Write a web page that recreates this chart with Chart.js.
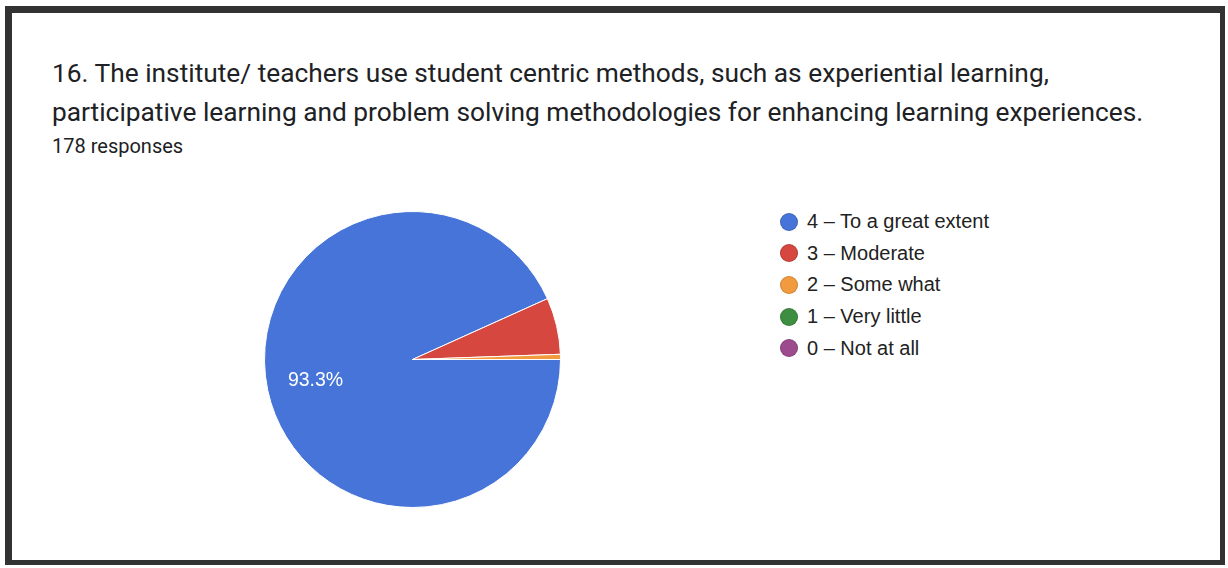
<!DOCTYPE html>
<html>
<head>
<meta charset="utf-8">
<script src="https://cdn.jsdelivr.net/npm/chart.js@4.4.0/dist/chart.umd.min.js"></script>
<style>
    body {
        margin: 0;
        width: 1228px;
        height: 568px;
        background: #fff;
        position: relative;
        overflow: hidden;
    }
    #frame {
        position: absolute;
        left: 5px;
        top: 6px;
        width: 1208px;
        height: 547px;
        border-style: solid;
        border-color: #333;
        border-width: 7px 5px 5px 7px;
    }
    #title {
        position: absolute;
        left: 52px;
        top: 54px;
        font-family: Roboto, sans-serif;
        font-size: 26.3px;
        line-height: 39px;
        color: #202124;
        white-space: nowrap;
    }
    #responses {
        position: absolute;
        left: 52px;
        top: 134px;
        font-family: Roboto, sans-serif;
        font-size: 20px;
        color: #202124;
    }
    #pieBox {
        position: absolute;
        left: 264px;
        top: 211px;
        width: 297px;
        height: 297px;
    }
    #legend {
        position: absolute;
        left: 780px;
        top: 206px;
        font-family: "Liberation Sans", Arial, sans-serif;
        font-size: 20px;
        color: #222;
    }
    .item {
        height: 31.6px;
        display: flex;
        align-items: center;
    }
    .dot {
        width: 18px;
        height: 18px;
        border-radius: 50%;
        margin-right: 9px;
        box-sizing: border-box;
    }
</style>
</head>
<body>
<div id="frame"></div>
<div id="title">16. The institute/ teachers use student centric methods, such as experiential learning,<br>participative learning and problem solving methodologies for enhancing learning experiences.</div>
<div id="responses">178 responses</div>
<div id="pieBox"><canvas id="pieChart"></canvas></div>
<div id="legend"></div>

<script>
const categories = ["4 – To a great extent", "3 – Moderate", "2 – Some what", "1 – Very little", "0 – Not at all"];
const responses = [166, 11, 1, 0, 0];
const sliceColors = ["#4674d8", "#d5473f", "#f19a3e", "#3e8e41", "#9b4b8e"];

// legend built from the same arrays
const legendDiv = document.getElementById("legend");
categories.forEach((c, i) => {
    let row = document.createElement("div");
    row.className = "item";
    let dot = document.createElement("div");
    dot.className = "dot";
    dot.style.background = sliceColors[i];
    dot.style.border = "1px solid rgba(0,0,0,0.15)";
    row.appendChild(dot);
    let txt = document.createElement("span");
    txt.textContent = c;
    row.appendChild(txt);
    legendDiv.appendChild(row);
});

// percent labels on big slices
const sliceLabels = {
    id: "sliceLabels",
    afterDatasetsDraw(chart) {
        const ctx = chart.ctx;
        const total = responses.reduce((a, b) => a + b, 0);
        chart.getDatasetMeta(0).data.forEach((arc, i) => {
            let pct = responses[i] / total * 100;
            if (pct < 10) return;
            let mid = (arc.startAngle + arc.endAngle) / 2;
            let r = arc.outerRadius * 0.67;
            ctx.save();
            ctx.fillStyle = "#fff";
            ctx.font = "19.5px 'Liberation Sans', Arial, sans-serif";
            ctx.textAlign = "center";
            ctx.textBaseline = "middle";
            ctx.fillText(pct.toFixed(1) + "%", arc.x + Math.cos(mid) * r, arc.y + Math.sin(mid) * r);
            ctx.restore();
        });
    },
};

new Chart(document.getElementById("pieChart"), {
    type: "pie",
    data: {
        labels: categories,
        datasets: [
            {
                data: responses,
                backgroundColor: sliceColors,
                borderColor: "#fff",
                borderWidth: 1,
            },
        ],
    },
    options: {
        responsive: true,
        maintainAspectRatio: false,
        animation: false,
        rotation: 90,
        layout: {padding: 0},
        plugins: {
            legend: {display: false},
            tooltip: {enabled: false},
        },
    },
    plugins: [sliceLabels],
});
</script>
</body>
</html>
